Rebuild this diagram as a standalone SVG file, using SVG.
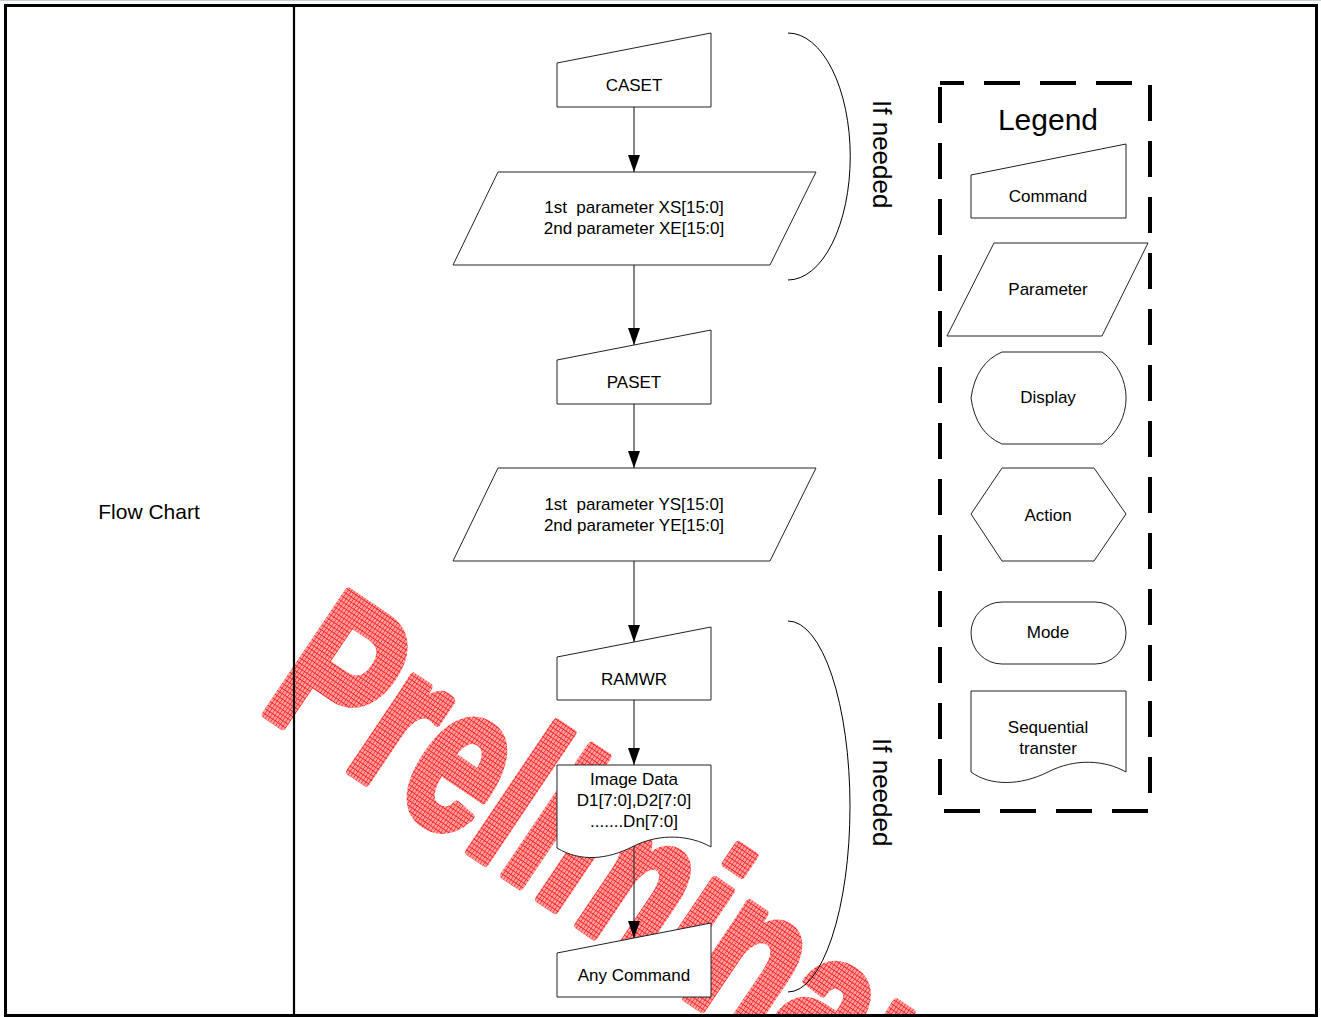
<svg xmlns="http://www.w3.org/2000/svg" width="1321" height="1017" viewBox="0 0 1321 1017">
<defs>
<pattern id="hatch" patternUnits="userSpaceOnUse" width="4.4" height="4.4">
<rect width="4.4" height="4.4" fill="#ffa0a0"/>
<path d="M0,0.5H4.4M0.5,0V4.4" stroke="#ff2020" stroke-width="0.9"/>
</pattern>
<marker id="arr" markerUnits="userSpaceOnUse" markerWidth="18" markerHeight="12" refX="17" refY="6" orient="auto">
<path d="M0,0L17,6L0,12z" fill="#000"/>
</marker>
<style>
.n{fill:#fff;stroke:#222;stroke-width:1}
.t{font-family:"Liberation Sans",Arial,sans-serif;font-size:17px;fill:#000;text-anchor:middle}
.c{fill:none;stroke:#333;stroke-width:1.2;marker-end:url(#arr)}
.br{fill:none;stroke:#000;stroke-width:1}
.rt{font-family:"Liberation Sans",Arial,sans-serif;font-size:26px;fill:#000}
</style>
</defs>
<rect width="1321" height="1017" fill="#fff"/>
<line x1="0" y1="0.5" x2="1321" y2="0.5" stroke="#c5d0dc" stroke-width="1"/>

<g id="watermark">
<text transform="translate(257,708) rotate(34) scale(0.71,1)" font-family="'Liberation Sans',Arial,sans-serif" font-weight="bold" font-size="214" fill="url(#hatch)" stroke="url(#hatch)" stroke-width="9" stroke-linejoin="round">Preliminary</text>
</g>

<g id="table">
<rect x="5.5" y="5.5" width="1311" height="1010" fill="none" stroke="#000" stroke-width="3"/>
<line x1="294" y1="5" x2="294" y2="1016" stroke="#000" stroke-width="2.2"/>
<text x="149" y="519" class="t" style="font-size:21px">Flow Chart</text>
</g>

<g id="connectors">
<line class="c" x1="634" y1="107" x2="634" y2="172"/>
<line class="c" x1="634" y1="265" x2="634" y2="345"/>
<line class="c" x1="634" y1="404" x2="634" y2="468"/>
<line class="c" x1="634" y1="561" x2="634" y2="642"/>
<line class="c" x1="634" y1="700" x2="634" y2="765"/>
<line class="c" x1="634" y1="845" x2="634" y2="938"/>
</g>

<g id="caset">
<polygon class="n" points="557,63 711,33 711,107 557,107"/>
<text x="634" y="91" class="t">CASET</text>
</g>
<g id="xparam">
<polygon class="n" points="498,172 816,172 770,265 453,265"/>
<text x="634" y="213" class="t" xml:space="preserve">1st  parameter XS[15:0]</text>
<text x="634" y="234" class="t">2nd parameter XE[15:0]</text>
</g>
<g id="paset">
<polygon class="n" points="557,360 711,330 711,404 557,404"/>
<text x="634" y="388" class="t">PASET</text>
</g>
<g id="yparam">
<polygon class="n" points="498,468 816,468 770,561 453,561"/>
<text x="634" y="510" class="t" xml:space="preserve">1st  parameter YS[15:0]</text>
<text x="634" y="531" class="t">2nd parameter YE[15:0]</text>
</g>
<g id="ramwr">
<polygon class="n" points="557,657 711,627 711,700 557,700"/>
<text x="634" y="685" class="t">RAMWR</text>
</g>
<g id="imagedata">
<path class="n" d="M557,765H711V847C690,835 660,833 634,846C607,860 580,862 557,848Z"/>
<text x="634" y="785" class="t">Image Data</text>
<text x="634" y="806" class="t">D1[7:0],D2[7:0]</text>
<text x="634" y="827" class="t">.......Dn[7:0]</text>
</g>
<g id="anycommand">
<polygon class="n" points="557,953 711,923 711,997 557,997"/>
<text x="634" y="981" class="t">Any Command</text>
</g>

<g id="bracket1">
<path class="br" d="M788,33A62,123 0 0 1 788,280"/>
<text class="rt" transform="translate(873,100) rotate(90)">If needed</text>
</g>
<g id="bracket2">
<path class="br" d="M788,621A62,185.5 0 0 1 788,992"/>
<text class="rt" transform="translate(873,738) rotate(90)">If needed</text>
</g>

<g id="legend">
<rect x="940" y="83" width="210" height="728" fill="none" stroke="#000" stroke-width="4" stroke-dasharray="36 20" stroke-dashoffset="12"/>
<text x="1048" y="130" class="t" style="font-size:30px">Legend</text>
<g id="lg-command">
<polygon class="n" points="971,175 1126,144 1126,218 971,218"/>
<text x="1048" y="202" class="t">Command</text>
</g>
<g id="lg-parameter">
<polygon class="n" points="994,243 1148,243 1102,336 947,336"/>
<text x="1048" y="295" class="t">Parameter</text>
</g>
<g id="lg-display">
<path class="n" d="M1002,352H1102A56,56 0 0 1 1102,444H1002Q976,433 971,398Q976,363 1002,352Z"/>
<text x="1048" y="403" class="t">Display</text>
</g>
<g id="lg-action">
<polygon class="n" points="1002,468 1094,468 1126,514 1094,561 1002,561 971,514"/>
<text x="1048" y="521" class="t">Action</text>
</g>
<g id="lg-mode">
<rect class="n" x="971" y="602" width="155" height="62" rx="31" ry="31"/>
<text x="1048" y="638" class="t">Mode</text>
</g>
<g id="lg-seq">
<path class="n" d="M971,691H1126V772C1105,760 1075,758 1048,772C1020,786 990,786 971,772Z"/>
<text x="1048" y="733" class="t">Sequential</text>
<text x="1048" y="754" class="t">transter</text>
</g>
</g>
</svg>
